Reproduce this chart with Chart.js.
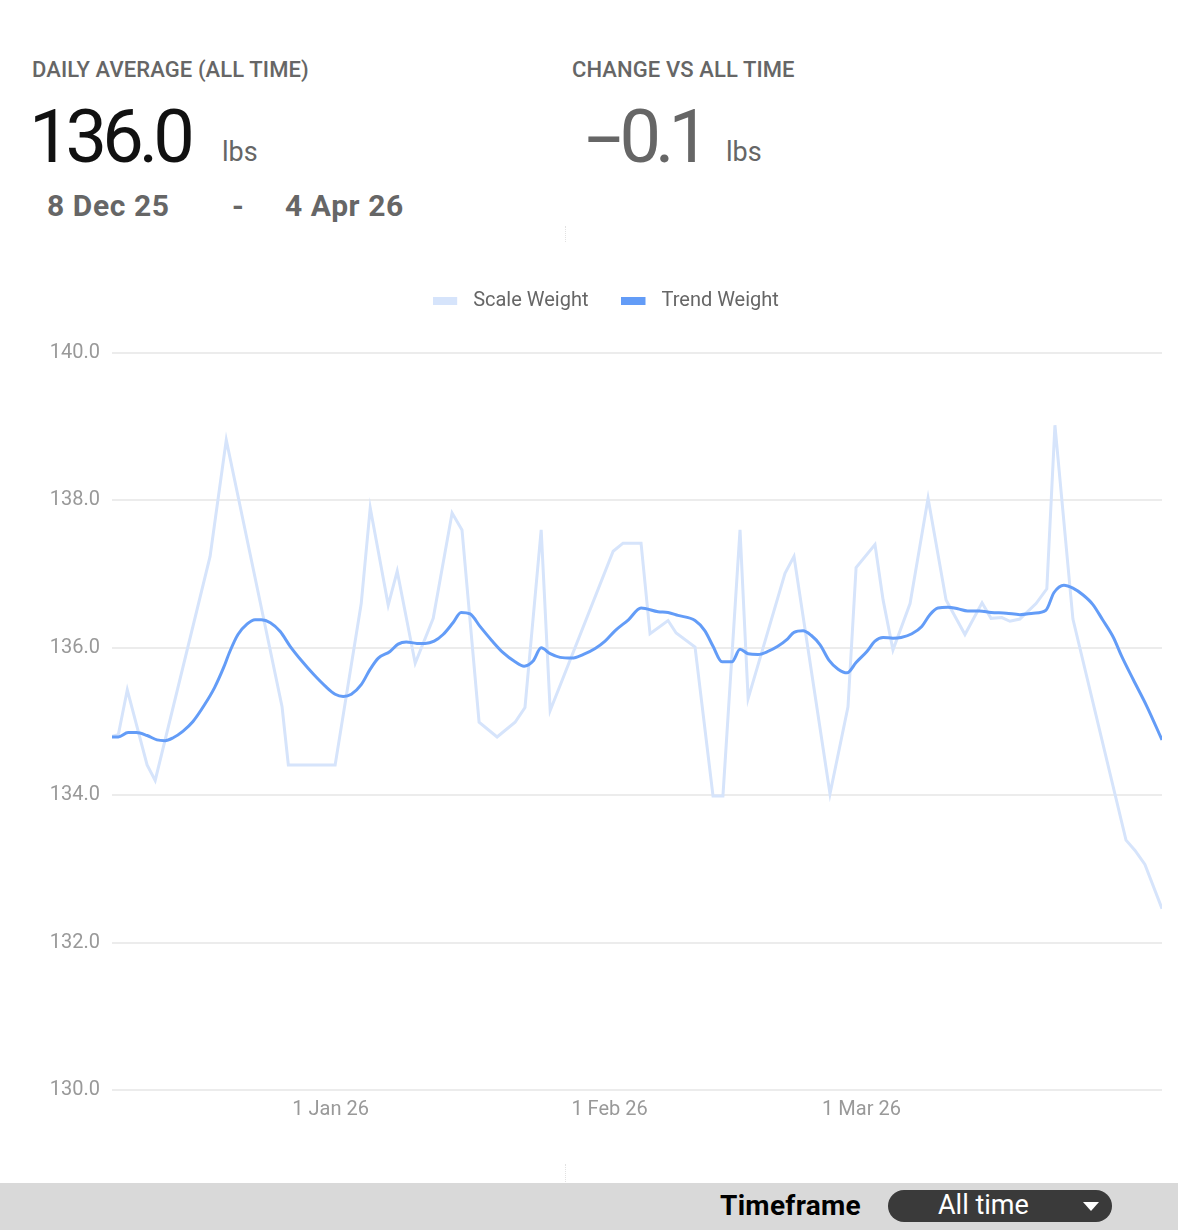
<!DOCTYPE html>
<html>
<head>
<meta charset="utf-8">
<script src="https://cdn.jsdelivr.net/npm/chart.js@4.4.1/dist/chart.umd.min.js"></script>
<style>
  html, body { margin: 0; padding: 0; background: #fff; }
  body { width: 1178px; height: 1230px; position: relative; overflow: hidden; font-family: Roboto, "Noto Sans", sans-serif; }
  .t { position: absolute; white-space: nowrap; line-height: 1; }
  .label { top: 59px; font-size: 22px; font-weight: 500; color: #666; letter-spacing: 0.1px; }
  .big { top: 100px; font-size: 74px; font-weight: 400; letter-spacing: -5px; }
  .big .dash { display: inline-block; transform: scaleX(1.75); transform-origin: left center; margin-right: 19px; }
  .unit { top: 139px; font-size: 27px; color: #666; }
  .date { top: 191px; font-size: 30px; font-weight: 700; color: #666; letter-spacing: 0.6px; }
  .split { position: absolute; left: 565px; width: 0; border-left: 1px dotted #e2e2e2; }
  #chartBox { position: absolute; left: 0; top: 258px; width: 1178px; height: 881px; }
  .bar { position: absolute; left: 0; top: 1183px; width: 1178px; height: 47px; background: #d9d9d9; }
  .tf { top: 1192px; left: 720px; font-size: 28px; font-weight: 700; color: #000; letter-spacing: 0.3px; }
  .pill { position: absolute; left: 888px; top: 1190px; width: 224px; height: 32px; border-radius: 16px; background: #3a3a3a; }
  .pill span { position: absolute; left: 50px; top: 2px; font-size: 27px; line-height: 1; color: #fff; }
  .pill i { position: absolute; left: 195px; top: 12px; width: 0; height: 0; border-left: 8px solid transparent; border-right: 8px solid transparent; border-top: 9px solid #fff; }
</style>
</head>
<body>
<div class="t label" style="left:32px">DAILY AVERAGE (ALL TIME)</div>
<div class="t big" style="left:29px;color:#111">136.0</div>
<div class="t unit" style="left:222px">lbs</div>
<div class="t date" style="left:47px">8 Dec 25</div>
<div class="t date" style="left:232px">-</div>
<div class="t date" style="left:285px">4 Apr 26</div>

<div class="t label" style="left:572px">CHANGE VS ALL TIME</div>
<div class="t big" style="left:586px;color:#666;letter-spacing:-6px"><span class="dash">-</span>0.1</div>
<div class="t unit" style="left:726px">lbs</div>

<div class="split" style="top:226px;height:16px"></div>
<div class="split" style="top:1164px;height:18px"></div>

<div id="chartBox"><canvas id="weight-chart"></canvas></div>

<div class="bar"></div>
<div class="t tf">Timeframe</div>
<div class="pill"><span>All time</span><i></i></div>

<script>
// days since 8 Dec 25
const scaleDays = [0, 0.7, 1.7, 3.9, 4.8, 10.9, 12.7, 18.9, 19.6, 24.8,
  27.7, 28.7, 30.7, 31.7, 33.7, 35.7, 37.8, 38.9, 40.8, 42.8,
  44.8, 45.9, 47.7, 48.7, 55.7, 56.8, 58.8, 59.8, 61.8, 62.7,
  64.8, 66.8, 67.9, 69.8, 70.7, 74.8, 75.8, 79.8, 81.8, 82.7,
  84.8, 85.7, 86.8, 88.7, 90.7, 92.7, 94.8, 96.7, 97.7, 98.9,
  99.8, 100.9, 102.7, 103.9, 104.8, 106.8, 112.7, 113.7, 114.8, 116.7];
const scaleWeights = [134.80, 134.82, 135.43, 134.41, 134.20, 137.24, 138.82, 135.20, 134.41, 134.41,
  136.60, 137.90, 136.58, 137.04, 135.79, 136.40, 137.83, 137.60, 134.99, 134.79,
  134.99, 135.19, 137.60, 135.15, 137.31, 137.42, 137.42, 136.19, 136.37, 136.20,
  136.01, 133.99, 133.99, 137.60, 135.31, 137.01, 137.24, 134.02, 135.20, 137.09,
  137.40, 136.65, 135.97, 136.60, 138.03, 136.65, 136.18, 136.61, 136.40, 136.41,
  136.36, 136.39, 136.60, 136.80, 139.02, 136.39, 133.39, 133.25, 133.06, 132.46];

const trendDays = [0, 0.7, 1.8, 2.7, 3.9, 5.0, 5.9, 6.8, 7.9, 9.0,
  10.3, 11.4, 12.4, 13.1, 14.0, 15.0, 15.9, 16.6, 17.6, 18.7,
  19.8, 21.1, 22.4, 23.7, 24.8, 25.7, 26.6, 27.7, 28.7, 29.6,
  30.9, 31.8, 32.7, 33.9, 34.8, 35.8, 36.8, 37.9, 38.8, 39.8,
  40.9, 42.2, 43.5, 44.8, 45.8, 46.8, 47.7, 48.7, 49.8, 51.1,
  52.4, 53.7, 54.8, 55.9, 57.4, 58.8, 60.7, 61.8, 62.9, 64.8,
  65.9, 66.8, 67.8, 68.9, 69.8, 70.7, 71.8, 72.9, 74.0, 75.0,
  75.8, 76.8, 77.7, 78.7, 79.7, 80.7, 81.7, 82.7, 83.9, 84.8,
  85.7, 86.8, 87.7, 88.9, 90.0, 90.9, 91.8, 92.9, 94.0, 95.1,
  96.4, 97.7, 99.4, 100.9, 102.4, 103.8, 104.7, 105.8, 106.8, 107.9,
  109.0, 110.1, 111.3, 112.2, 113.5, 115.0, 116.7];
const trendWeights = [134.79, 134.79, 134.85, 134.85, 134.81, 134.75, 134.74, 134.78, 134.87, 135.00,
  135.23, 135.46, 135.73, 135.95, 136.18, 136.32, 136.38, 136.38, 136.34, 136.22,
  136.02, 135.82, 135.64, 135.48, 135.37, 135.34, 135.37, 135.50, 135.71, 135.86,
  135.95, 136.05, 136.08, 136.06, 136.06, 136.09, 136.18, 136.34, 136.48, 136.46,
  136.29, 136.10, 135.93, 135.81, 135.75, 135.82, 136.00, 135.92, 135.87, 135.86,
  135.91, 135.99, 136.09, 136.23, 136.38, 136.54, 136.49, 136.48, 136.44, 136.37,
  136.23, 136.02, 135.81, 135.81, 135.98, 135.92, 135.91, 135.95, 136.02, 136.11,
  136.21, 136.23, 136.17, 136.04, 135.83, 135.71, 135.66, 135.80, 135.95, 136.09,
  136.14, 136.13, 136.14, 136.19, 136.29, 136.45, 136.54, 136.55, 136.53, 136.50,
  136.50, 136.48, 136.47, 136.45, 136.47, 136.51, 136.75, 136.85, 136.81, 136.72,
  136.59, 136.38, 136.14, 135.89, 135.57, 135.21, 134.75];

const yTicks = [130, 132, 134, 136, 138, 140];
const monthTickDays = [24.3, 55.3, 83.3];
const monthTickLabels = ['1 Jan 26', '1 Feb 26', '1 Mar 26'];

const toPoints = (xs, ys) => xs.map((x, i) => ({ x: x, y: ys[i] }));

// flat legend swatch, a bit of empty room on the right
function swatch(color) {
    let c = document.createElement('canvas');
    c.width = 30;
    c.height = 8;
    let g = c.getContext('2d');
    g.fillStyle = color;
    g.fillRect(0, 0, 24, 8);
    return c;
}

// extra room under the legend
const legendGap = {
    id: 'legendGap',
    beforeInit(chart) {
        const fit = chart.legend.fit;
        chart.legend.fit = function() {
            fit.call(this);
            this.height += 32;
        };
    }
};

Chart.defaults.font.family = 'Roboto';
Chart.defaults.font.size = 20;

let ctx = document.getElementById('weight-chart').getContext('2d');

let chart = new Chart(ctx, {
    type: 'line',
    data: {
        datasets: [{
            label: 'Trend Weight',
            data: toPoints(trendDays, trendWeights),
            borderColor: '#639cf7',
            backgroundColor: '#639cf7',
            borderWidth: 3,
            pointRadius: 0,
            cubicInterpolationMode: 'monotone',
        }, {
            label: 'Scale Weight',
            data: toPoints(scaleDays, scaleWeights),
            borderColor: '#d6e4fb',
            backgroundColor: '#d6e4fb',
            borderWidth: 3,
            pointRadius: 0,
            tension: 0,
        }]
    },
    plugins: [legendGap],
    options: {
        responsive: true,
        maintainAspectRatio: false,
        animation: false,
        layout: {
            padding: { left: 50, right: 16, top: 0, bottom: 9 },
        },
        plugins: {
            legend: {
                reverse: true,
                labels: {
                    color: '#666',
                    padding: 33,
                    usePointStyle: true,
                    pointStyleWidth: 30,
                    boxHeight: 8,
                    generateLabels: function(chart) {
                        let items = Chart.defaults.plugins.legend.labels.generateLabels(chart);
                        items.forEach(item => {
                            item.pointStyle = swatch(chart.data.datasets[item.datasetIndex].borderColor);
                        });
                        return items;
                    }
                }
            },
            tooltip: { enabled: false }
        },
        scales: {
            x: {
                type: 'linear',
                min: 0,
                max: 116.7,
                grid: { display: false, drawTicks: false },
                border: { display: false },
                afterBuildTicks: axis => { axis.ticks = monthTickDays.map(v => ({ value: v })); },
                ticks: {
                    autoSkip: false,
                    maxRotation: 0,
                    padding: 8,
                    color: '#999',
                    callback: (value, index) => monthTickLabels[index]
                }
            },
            y: {
                min: 130,
                max: 140,
                afterBuildTicks: axis => { axis.ticks = yTicks.map(v => ({ value: v })); },
                afterFit: axis => { axis.width = 62; },
                grid: { color: '#ececec', lineWidth: 2, drawTicks: false },
                border: { display: false },
                ticks: {
                    padding: 12,
                    color: '#999',
                    callback: value => value.toFixed(1)
                }
            }
        }
    }
});
</script>
</body>
</html>
